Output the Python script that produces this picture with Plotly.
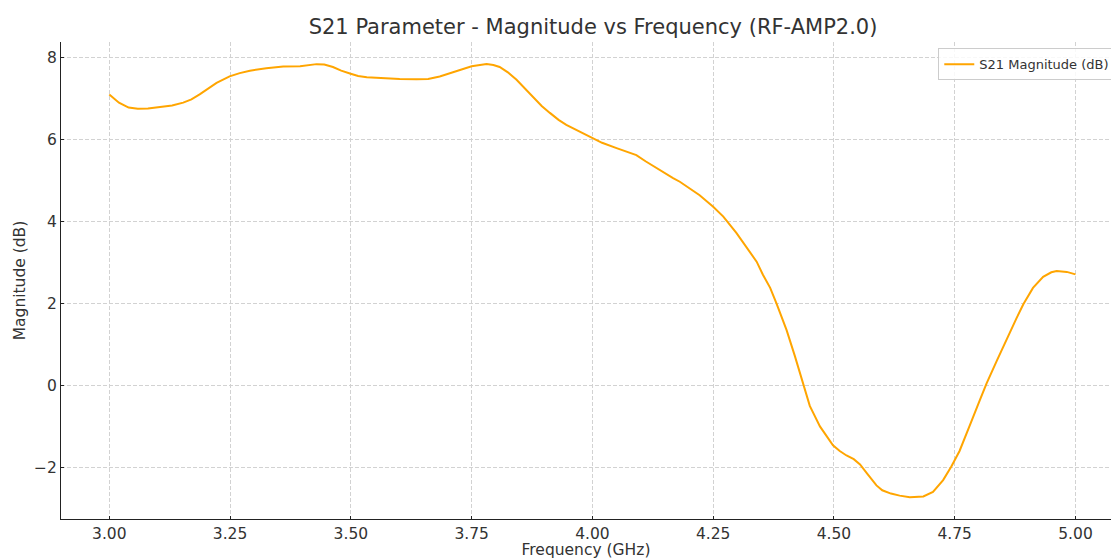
import plotly.graph_objects as go

# Frequency (GHz) and S21 magnitude (dB)
freq_ghz = [
    3.000, 3.020, 3.040, 3.059, 3.080, 3.104, 3.130, 3.153, 3.170, 3.187,
    3.205, 3.222, 3.249, 3.270, 3.291, 3.325, 3.360, 3.395, 3.429, 3.445,
    3.463, 3.480, 3.498, 3.515, 3.533, 3.560, 3.601, 3.636, 3.660, 3.684,
    3.700, 3.719, 3.750, 3.781, 3.795, 3.808, 3.825, 3.843, 3.860, 3.877,
    3.895, 3.912, 3.930, 3.946, 3.970, 4.000, 4.020, 4.050, 4.091, 4.110,
    4.133, 4.150, 4.167, 4.181, 4.202, 4.222, 4.250, 4.271, 4.298, 4.326,
    4.340, 4.353, 4.368, 4.381, 4.392, 4.402, 4.419, 4.436, 4.450, 4.471,
    4.485, 4.498, 4.512, 4.526, 4.541, 4.554, 4.570, 4.588, 4.600, 4.618,
    4.636, 4.657, 4.685, 4.705, 4.726, 4.743, 4.760, 4.770, 4.781, 4.802,
    4.816, 4.837, 4.857, 4.878, 4.892, 4.912, 4.933, 4.950, 4.961, 4.982,
    5.000,
]
s21_db = [
    7.10, 6.90, 6.78, 6.75, 6.76, 6.79, 6.83, 6.90, 6.98, 7.10,
    7.25, 7.38, 7.54, 7.62, 7.68, 7.74, 7.78, 7.79, 7.84, 7.83,
    7.77, 7.68, 7.61, 7.55, 7.52, 7.50, 7.48, 7.47, 7.48, 7.54,
    7.60, 7.68, 7.79, 7.84, 7.82, 7.77, 7.64, 7.46, 7.25, 7.04,
    6.82, 6.65, 6.48, 6.36, 6.22, 6.05, 5.92, 5.79, 5.62, 5.47,
    5.30, 5.18, 5.06, 4.97, 4.80, 4.64, 4.36, 4.12, 3.72, 3.27,
    3.02, 2.70, 2.38, 2.00, 1.66, 1.35, 0.72, 0.02, -0.50, -1.00,
    -1.25, -1.46, -1.60, -1.71, -1.80, -1.93, -2.17, -2.44, -2.56, -2.64,
    -2.69, -2.73, -2.71, -2.60, -2.31, -1.98, -1.60, -1.28, -0.98, -0.36,
    0.05, 0.60, 1.12, 1.64, 1.98, 2.38, 2.65, 2.76, 2.79, 2.77,
    2.71,
]

series_name = "S21 Magnitude (dB)"
title_text = "S21 Parameter - Magnitude vs Frequency (RF-AMP2.0)"
x_title = "Frequency (GHz)"
y_title = "Magnitude (dB)"

FONT = "DejaVu Sans, Verdana, sans-serif"
TXT = "#333333"
GRID = "#d2d2d2"

fig = go.Figure()
fig.add_trace(go.Scatter(
    x=freq_ghz, y=s21_db, mode="lines", name=series_name,
    line=dict(color="#FFA500", width=2),
))

fig.update_layout(
    width=1111, height=559,
    margin=dict(l=61, r=0, t=42, b=40, autoexpand=False),
    paper_bgcolor="white", plot_bgcolor="white",
    font=dict(family=FONT, color=TXT, size=15),
    title=dict(text=title_text, x=0.5338, xref="container", xanchor="center",
               y=1 - 27 / 559, yref="container", yanchor="middle",
               font=dict(family=FONT, size=21, color=TXT)),
    showlegend=True,
    legend=dict(x=0.8355, xanchor="left", y=0.987, yanchor="top",
                bgcolor="rgba(255,255,255,0.85)", bordercolor="#cccccc",
                borderwidth=1, font=dict(family=FONT, size=13, color=TXT),
                itemwidth=30),
)

fig.update_xaxes(
    range=[2.9, 5.0735], tick0=3.0, dtick=0.25, tickformat=".2f",
    showgrid=True, gridcolor=GRID, griddash="4px,2px", gridwidth=0.8,
    zeroline=False, showline=True, linecolor="#222222", linewidth=1.3,
    mirror=False, ticks="inside", ticklen=3, tickcolor="#222222",
    tickfont=dict(family=FONT, size=15.5, color=TXT),
    title=dict(text=x_title, standoff=12, font=dict(family=FONT, size=15.5, color=TXT)),
)
fig.update_yaxes(
    range=[-3.26, 8.38], tick0=0, dtick=2,
    showgrid=True, gridcolor=GRID, griddash="4px,2px", gridwidth=0.8,
    zeroline=False, showline=True, linecolor="#222222", linewidth=1.3,
    mirror=False, ticks="inside", ticklen=3, tickcolor="#222222",
    tickfont=dict(family=FONT, size=15.5, color=TXT),
    title=dict(text=y_title, standoff=4, font=dict(family=FONT, size=15.5, color=TXT)),
)

fig.write_html(
    "out.html",
    config={"displayModeBar": False},
    post_script="document.body.style.margin='0';document.body.style.overflow='hidden';",
)
